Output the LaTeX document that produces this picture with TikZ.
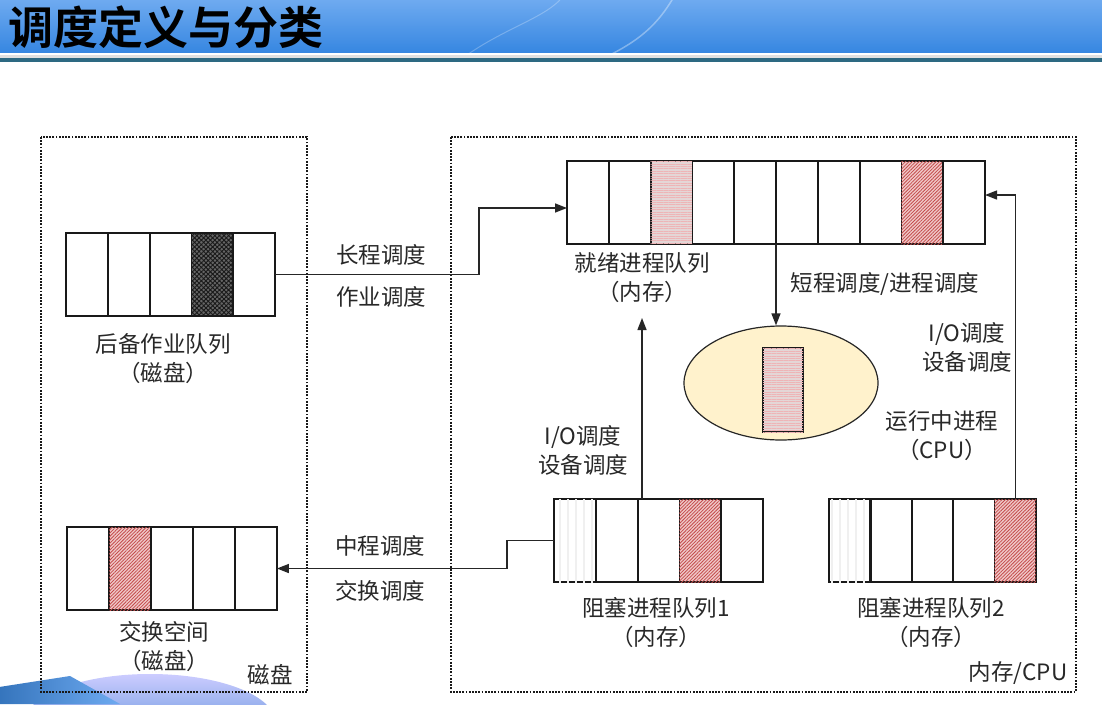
\documentclass[tikz,border=0pt]{standalone}
\usepackage{fontspec}
\setmainfont{Noto Sans CJK SC}
\newfontfamily\titlefont{Noto Sans CJK SC Bold}
\usetikzlibrary{arrows.meta,shapes.geometric,patterns.meta,calc}
\definecolor{txt}{RGB}{40,40,40}
\definecolor{hatchbg}{RGB}{240,200,200}
\definecolor{hatchln}{RGB}{195,75,75}
\definecolor{lpinkbg}{RGB}{228,214,214}
\definecolor{lpinkln}{RGB}{238,180,182}
\definecolor{runfill}{RGB}{255,242,204}
\definecolor{hdtop}{RGB}{110,170,240}
\definecolor{hdbot}{RGB}{55,135,225}
\definecolor{teal}{RGB}{45,105,130}
\tikzset{
  cell/.style={draw=black!90, line width=1.8pt, minimum width=41.8pt, minimum height=83pt, inner sep=0pt, outer sep=0pt},
  plain/.style={},
  hatch/.style={fill=hatchbg, postaction={pattern={Lines[angle=45,distance=2.4pt,line width=0.8pt]}, pattern color=hatchln}},
  hlines/.style={fill=lpinkbg, postaction={pattern={Lines[angle=0,distance=2.4pt,line width=0.6pt]}, pattern color=lpinkln}},
  vlines/.style={postaction={pattern={Lines[angle=90,distance=8pt,line width=1.2pt]}, pattern color=black!6}},
  cross/.style={fill=black!60, postaction={pattern={Hatch[angle=45,distance=3.2pt,line width=0.9pt]}, pattern color=black!90}},
  zone/.style={draw=black!90, line width=1.6pt, dash pattern=on 1.8pt off 1.4pt},
  arr/.style={draw=black!85, line width=1.4pt, -{Triangle[length=12pt,width=9pt]}},
  lbl/.style={text=txt, font=\fontsize{22.5}{29}\selectfont, align=center, inner sep=0pt},
}
\begin{document}
\begin{tikzpicture}[x=1pt,y=-1pt]
\useasboundingbox (0,0) rectangle (1102,704);
\fill[white] (0,0) rectangle (1102,704);
% header
\shade[top color=hdtop, bottom color=hdbot] (0,0) rectangle (1102,52);
\begin{scope}
\clip (0,0) rectangle (1102,52);
\draw[white, opacity=0.35, line width=1.5pt] (700,-80) .. controls (680,20) and (640,40) .. (600,60);
\draw[white, opacity=0.3, line width=1.5pt] (1190,-60) .. controls (1220,20) and (1260,40) .. (1300,60);
\draw[white, opacity=0.3, line width=1.5pt] (1300,-40) .. controls (1270,10) and (1240,40) .. (1230,60);
\draw[white, opacity=0.25, line width=1pt] (460,60) .. controls (500,30) and (540,20) .. (560,0);
\end{scope}
\fill[black!12] (0,55) rectangle (1102,57.5);
\fill[teal] (0,58) rectangle (1102,62);
\node[anchor=west, inner sep=0pt, font=\titlefont\fontsize{45}{45}\selectfont, text=black] (title) at (8,27) {调度定义与分类};
% bottom-left decoration
\begin{scope}
\clip (0,660) rectangle (1102,704);
\shade[top color=blue!20!white, bottom color=hdbot!90!black] (150,722) ellipse (125pt and 48pt);
\shade[left color=hdbot!80!black, right color=hdtop] (-20,690) -- (70,676) -- (120,704) -- (-20,704) -- cycle;
\end{scope}
% zones
\draw[zone] (41,137) rectangle (307,692);
\draw[zone] (451,137) rectangle (1076,692);
% queues
\foreach \i/\s in {0/plain,1/plain,2/plain,3/cross,4/plain}
  \node[cell,\s] (tl\i) at ({66+20.9+41.8*\i},274.5) {};
\foreach \i/\s in {0/plain,1/plain,2/hlines,3/plain,4/plain,5/plain,6/plain,7/plain,8/hatch,9/plain}
  \node[cell,\s] (r\i) at ({567+20.9+41.8*\i},202.5) {};
\foreach \i/\s in {0/vlines,1/plain,2/plain,3/hatch,4/plain}
  \node[cell,\s] (ba\i) at ({554+20.9+41.8*\i},540.5) {};
\foreach \i/\s in {0/vlines,1/plain,2/plain,3/plain,4/hatch}
  \node[cell,\s] (bb\i) at ({829+20.7+41.4*\i},540.5) {};
\foreach \i/\s in {0/plain,1/hatch,2/plain,3/plain,4/plain}
  \node[cell,\s] (bl\i) at ({67+21+42*\i},568.5) {};
% running process
\node[ellipse, draw=black!85, line width=1.2pt, fill=runfill, minimum width=194pt, minimum height=114pt, inner sep=0pt] (run) at (781,383) {};
\node[cell, hlines, minimum width=40pt, minimum height=84pt] (runp) at (783,390) {};
% labels
\node[lbl] (tllab) at (163,359) {后备作业队列\\（磁盘）};
\node[lbl] (rlab) at (642,277.5) {就绪进程队列\\（内存）};
\node[lbl] (balab) at (656,623) {阻塞进程队列1\\（内存）};
\node[lbl] (bblab) at (931,623) {阻塞进程队列2\\（内存）};
\node[lbl] (bllab) at (164,646.5) {交换空间\\（磁盘）};
\node[lbl] (runlab) at (942,436) {运行中进程\\（CPU）};
\node[lbl] (l1) at (381,255) {长程调度};
\node[lbl] (l2) at (381,297) {作业调度};
\node[lbl] (l3) at (885,284) {短程调度/进程调度};
\node[lbl] (l4) at (967,347.5) {I/O调度\\设备调度};
\node[lbl] (l5) at (583,450) {I/O调度\\设备调度};
\node[lbl] (l6) at (380,546) {中程调度};
\node[lbl] (l7) at (380,591) {交换调度};
\node[lbl] (disk) at (270,675) {磁盘};
\node[lbl] (mem) at (1018,673) {内存/CPU};
% connectors
\coordinate (rin) at ($(r0.west)+(0,5.5)$);
\coordinate (rtop) at (0,195);
\coordinate (rlabtip) at (642,318);
\draw[arr] (tl4.east) -| (479,208) -- (rin);
\draw[arr] (r5.south west) -- (r5.south west |- run.north);
\draw[arr] (ba2.north -| rlabtip) -- (rlabtip);
\draw[arr] (bb4.north) -- (bb4.north |- rtop) -- (r9.east |- rtop);
\draw[arr] (ba0.west) -| (507,568.5) -- (bl4.east);
\end{tikzpicture}
\end{document}
